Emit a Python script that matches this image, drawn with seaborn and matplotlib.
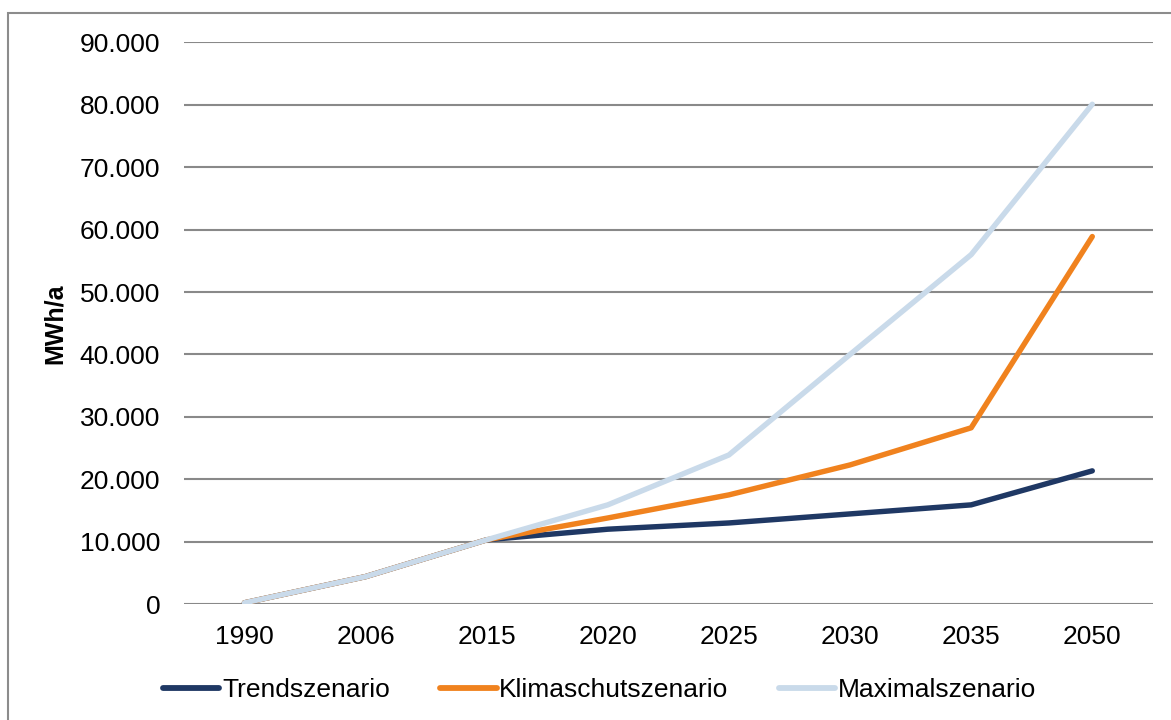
import pandas as pd
import numpy as np

import matplotlib
matplotlib.use("Agg")
import matplotlib.pyplot as plt
from matplotlib.ticker import FuncFormatter
from matplotlib.patches import Rectangle
import seaborn as sns

# -------------------------------
# Data (MWh/a)
# -------------------------------
years = ["1990", "2006", "2015", "2020", "2025", "2030", "2035", "2050"]
trend = [200, 4400, 10300, 12000, 13000, 14450, 15900, 21350]
klima = [200, 4400, 10300, 13800, 17500, 22300, 28250, 58900]
maximal = [200, 4400, 10300, 15900, 23900, 40000, 56000, 80100]

scenarios = ["Trendszenario", "Klimaschutszenario", "Maximalszenario"]
colors = ["#1F3864", "#F0821E", "#C9DAEA"]

df = pd.DataFrame({
    "Jahr": years * 3,
    "Szenario": np.repeat(scenarios, len(years)),
    "Wert": trend + klima + maximal,
})

# -------------------------------
# Plot
# -------------------------------
sns.set_style("white")
plt.rcParams["font.family"] = ["Liberation Sans", "DejaVu Sans"]
plt.rcParams["text.color"] = "black"
plt.rcParams["axes.labelcolor"] = "black"

fig = plt.figure(figsize=(11.71, 7.2), dpi=100)
ax = fig.add_axes([0.157, 0.161, 0.8275, 0.780])

sns.lineplot(
    data=df, x="Jahr", y="Wert", hue="Szenario",
    palette=dict(zip(scenarios, colors)), hue_order=scenarios,
    linewidth=3.9, ax=ax, legend=False, zorder=3,
)
for line in ax.lines:
    line.set_solid_capstyle("round")
    line.set_solid_joinstyle("round")

ax.set_ylim(0, 90000)
ax.set_xlim(-0.5, len(years) - 0.5)
ax.set_yticks(np.arange(0, 90001, 10000))
ax.yaxis.set_major_formatter(FuncFormatter(lambda v, p: f"{v:,.0f}".replace(",", ".")))

ax.grid(axis="y", color="#898989", linewidth=1.5, zorder=0)
ax.grid(axis="x", visible=False)
for s in ax.spines.values():
    s.set_visible(False)

ax.tick_params(axis="both", length=0, labelsize=19, colors="black")
ax.tick_params(axis="y", pad=17)
ax.tick_params(axis="x", pad=15)
ax.set_xlabel("")
ax.set_ylabel("MWh/a", fontsize=18, fontweight="bold", labelpad=9, color="black")

# legend in original order
handles = [plt.Line2D([0], [0], color=c, linewidth=4.2, solid_capstyle="round") for c in colors]
fig.legend(
    handles, scenarios, loc="center", bbox_to_anchor=(0.512, 0.042),
    ncol=3, frameon=False, fontsize=19, handlelength=2.15,
    handletextpad=0.1, columnspacing=1.9, labelcolor="black",
)

# outer frame
fig.patches.append(Rectangle(
    (8 / 1171, -0.05), 1.2, (720 - 13) / 720 + 0.05,
    transform=fig.transFigure, fill=False, edgecolor="#8C8C8C", linewidth=1.5,
))

plt.savefig("out.png", dpi=100)
